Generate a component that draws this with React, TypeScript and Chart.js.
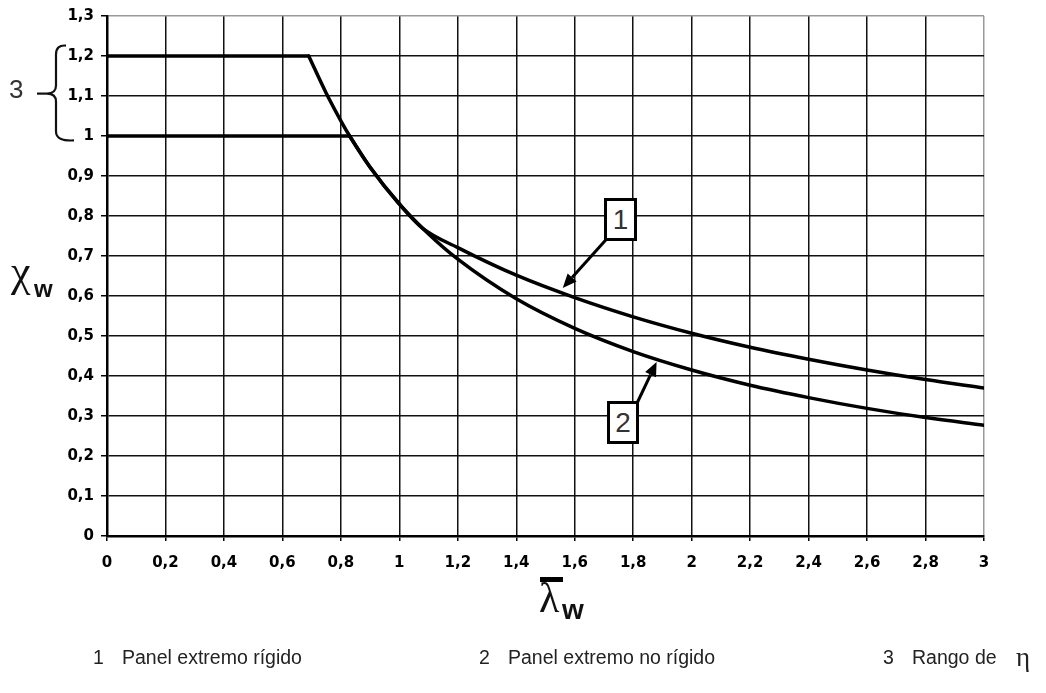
import React, { useEffect, useRef } from 'react';
import { Chart, registerables } from 'chart.js';

Chart.register(...registerables);

// ---- data ----
const etaUpperLambda = [0, 0.69];
const etaUpperChi = [1.2, 1.2];
const etaLowerLambda = [0, 0.83];
const etaLowerChi = [1.0, 1.0];

const rigidLambda = [0.69, 0.75, 0.8, 0.83, 0.9, 1.0, 1.08, 1.2, 1.4, 1.6, 1.8, 2.0, 2.2, 2.4, 2.6, 2.8, 3.0];
const rigidChi = [1.2, 1.107, 1.038, 1.0, 0.922, 0.83, 0.769, 0.721, 0.652, 0.596, 0.548, 0.507, 0.472, 0.442, 0.415, 0.391, 0.37];

const nonRigidLambda = [0.83, 0.9, 1.0, 1.1, 1.2, 1.4, 1.6, 1.8, 2.0, 2.2, 2.4, 2.6, 2.8, 3.0];
const nonRigidChi = [1.0, 0.922, 0.83, 0.755, 0.692, 0.593, 0.519, 0.461, 0.415, 0.377, 0.346, 0.319, 0.296, 0.277];

const xTickLabels = ['0', '0,2', '0,4', '0,6', '0,8', '1', '1,2', '1,4', '1,6', '1,8', '2', '2,2', '2,4', '2,6', '2,8', '3'];
const yTickLabels = ['0', '0,1', '0,2', '0,3', '0,4', '0,5', '0,6', '0,7', '0,8', '0,9', '1', '1,1', '1,2', '1,3'];

const legendNumbers = ['1', '2', '3'];
const legendTexts = ['Panel extremo rígido', 'Panel extremo no rígido', 'Rango de'];

const toPoints = (xs: number[], ys: number[]) => xs.map((x, i) => ({ x, y: ys[i] }));

// arrows in data coordinates: [fromX, fromY, toX, toY]
const arrowDefs = [
  [1.706, 0.74, 1.559, 0.62],
  [1.815, 0.335, 1.88, 0.435],
];

function drawArrow(ctx: CanvasRenderingContext2D, x1: number, y1: number, x2: number, y2: number) {
  const ang = Math.atan2(y2 - y1, x2 - x1);
  const headLen = 14;
  const headW = 6;
  const bx = x2 - headLen * Math.cos(ang);
  const by = y2 - headLen * Math.sin(ang);
  ctx.strokeStyle = '#000';
  ctx.fillStyle = '#000';
  ctx.lineWidth = 3;
  ctx.lineCap = 'butt';
  ctx.beginPath();
  ctx.moveTo(x1, y1);
  ctx.lineTo(bx, by);
  ctx.stroke();
  ctx.beginPath();
  ctx.moveTo(x2, y2);
  ctx.lineTo(bx + headW * Math.sin(ang), by - headW * Math.cos(ang));
  ctx.lineTo(bx - headW * Math.sin(ang), by + headW * Math.cos(ang));
  ctx.closePath();
  ctx.fill();
}

const annotationPlugin = {
  id: 'annotations',
  afterDatasetsDraw(chart: any) {
    const { ctx, scales } = chart;
    const xs = scales.x;
    const ys = scales.y;
    ctx.save();
    arrowDefs.forEach((a) => {
      drawArrow(ctx, xs.getPixelForValue(a[0]), ys.getPixelForValue(a[1]), xs.getPixelForValue(a[2]), ys.getPixelForValue(a[3]));
    });
    // curly brace for range of eta
    const left = chart.chartArea.left;
    const yTop = ys.getPixelForValue(1.226);
    const yBot = ys.getPixelForValue(0.989);
    const yMid = ys.getPixelForValue(1.106);
    const xv = left - 51;
    const xTopEnd = left - 41;
    const xBotEnd = left - 33;
    const xTip = left - 60;
    ctx.strokeStyle = '#111';
    ctx.lineWidth = 2.2;
    ctx.beginPath();
    ctx.moveTo(xTopEnd, yTop);
    ctx.quadraticCurveTo(xv, yTop - 1, xv, yTop + 9);
    ctx.lineTo(xv, yMid - 8);
    ctx.quadraticCurveTo(xv, yMid, xTip, yMid);
    ctx.quadraticCurveTo(xv, yMid, xv, yMid + 8);
    ctx.lineTo(xv, yBot - 9);
    ctx.quadraticCurveTo(xv, yBot + 1, xBotEnd, yBot);
    ctx.stroke();
    ctx.beginPath();
    ctx.moveTo(left - 70, yMid);
    ctx.lineTo(xTip, yMid);
    ctx.stroke();
    ctx.restore();
  },
};

const tickFont = { family: 'DejaVu Sans', size: 15, weight: 'bold' as const };

export default function App() {
  const canvasRef = useRef<HTMLCanvasElement | null>(null);

  useEffect(() => {
    const canvas = canvasRef.current;
    if (!canvas) return;
    const lineStyle = {
      borderColor: '#000',
      borderWidth: 3.5,
      pointRadius: 0,
      fill: false,
      borderCapStyle: 'round' as const,
    };
    const chart = new Chart(canvas, {
      type: 'line',
      data: {
        datasets: [
          { ...lineStyle, data: toPoints(etaUpperLambda, etaUpperChi), tension: 0 },
          { ...lineStyle, data: toPoints(etaLowerLambda, etaLowerChi), tension: 0 },
          { ...lineStyle, data: toPoints(rigidLambda, rigidChi), cubicInterpolationMode: 'monotone' },
          { ...lineStyle, data: toPoints(nonRigidLambda, nonRigidChi), cubicInterpolationMode: 'monotone' },
        ],
      },
      options: {
        animation: false,
        responsive: false,
        maintainAspectRatio: false,
        layout: { padding: { top: 15, right: 62, left: 0, bottom: 0 } },
        plugins: {
          legend: { display: false },
          tooltip: { enabled: false },
          title: { display: false },
        },
        scales: {
          x: {
            type: 'linear',
            min: 0,
            max: 3,
            afterFit: (scale: any) => {
              scale.height = 157;
            },
            ticks: {
              stepSize: 0.2,
              autoSkip: false,
              maxRotation: 0,
              padding: 13,
              color: '#000',
              font: tickFont,
              callback: (_v: any, i: number) => xTickLabels[i],
            },
            grid: {
              color: (c: any) => (c.index === xTickLabels.length - 1 ? '#9a9a9a' : '#111'),
              lineWidth: 1.5,
              tickLength: 5,
              tickColor: '#000',
              tickWidth: 1.5,
            },
            border: { display: true, color: '#000', width: 2.5 },
          },
          y: {
            type: 'linear',
            min: 0,
            max: 1.3,
            afterFit: (scale: any) => {
              scale.width = 107;
            },
            ticks: {
              stepSize: 0.1,
              autoSkip: false,
              padding: 7,
              color: '#000',
              font: tickFont,
              callback: (_v: any, i: number) => yTickLabels[i],
            },
            grid: {
              color: (c: any) => (c.index === yTickLabels.length - 1 ? '#9a9a9a' : '#111'),
              lineWidth: 1.5,
              tickLength: 6,
              tickColor: '#000',
              tickWidth: 1.5,
            },
            border: { display: true, color: '#000', width: 2.5 },
          },
        },
      },
      plugins: [annotationPlugin],
    });
    return () => chart.destroy();
  }, []);

  const abs = (style: React.CSSProperties): React.CSSProperties => ({ position: 'absolute', whiteSpace: 'nowrap', lineHeight: 1, ...style });
  const sans = 'Liberation Sans, Arial, sans-serif';
  const serif = 'Liberation Serif, Times New Roman, serif';
  const legendLeft = [[93, 122], [479, 508], [883, 912]];

  return (
    <div style={{ position: 'fixed', left: 0, top: 0, width: 1046, height: 693, background: '#fff', overflow: 'hidden' }}>
      <canvas ref={canvasRef} width={1046} height={693} style={{ position: 'absolute', left: 0, top: 0, width: 1046, height: 693 }} />

      {/* range-of-eta marker */}
      <div style={abs({ left: 9, top: 76, fontFamily: sans, fontSize: 26, color: '#333' })}>3</div>

      {/* y axis title */}
      <div style={abs({ left: 11, top: 250, fontFamily: serif, fontSize: 44, color: '#111' })}>χ</div>
      <div style={abs({ left: 34, top: 277, fontFamily: sans, fontSize: 24, fontWeight: 'bold', color: '#111' })}>w</div>

      {/* x axis title */}
      <div style={{ position: 'absolute', left: 540, top: 577, width: 23, height: 5, background: '#000' }} />
      <div style={abs({ left: 539, top: 577, fontFamily: serif, fontSize: 42, color: '#111' })}>λ</div>
      <div style={abs({ left: 562, top: 596, fontFamily: sans, fontSize: 28, fontWeight: 'bold', color: '#111' })}>w</div>

      {/* callout boxes */}
      <div style={{ position: 'absolute', left: 604, top: 198, width: 33, height: 43, boxSizing: 'border-box', border: '3px solid #000', background: '#fff', fontFamily: sans, fontSize: 28, color: '#333', textAlign: 'center', lineHeight: '37px' }}>1</div>
      <div style={{ position: 'absolute', left: 607, top: 401, width: 32, height: 43, boxSizing: 'border-box', border: '3px solid #000', background: '#fff', fontFamily: sans, fontSize: 28, color: '#333', textAlign: 'center', lineHeight: '37px' }}>2</div>

      {/* legend */}
      {legendNumbers.map((n, i) => (
        <React.Fragment key={n}>
          <div style={abs({ left: legendLeft[i][0], top: 648, fontFamily: sans, fontSize: 19.5, color: '#222' })}>{n}</div>
          <div style={abs({ left: legendLeft[i][1], top: 648, fontFamily: sans, fontSize: 19.5, color: '#222' })}>{legendTexts[i]}</div>
        </React.Fragment>
      ))}
      <div style={abs({ left: 1016, top: 644, fontFamily: serif, fontSize: 27, color: '#222' })}>η</div>
    </div>
  );
}
